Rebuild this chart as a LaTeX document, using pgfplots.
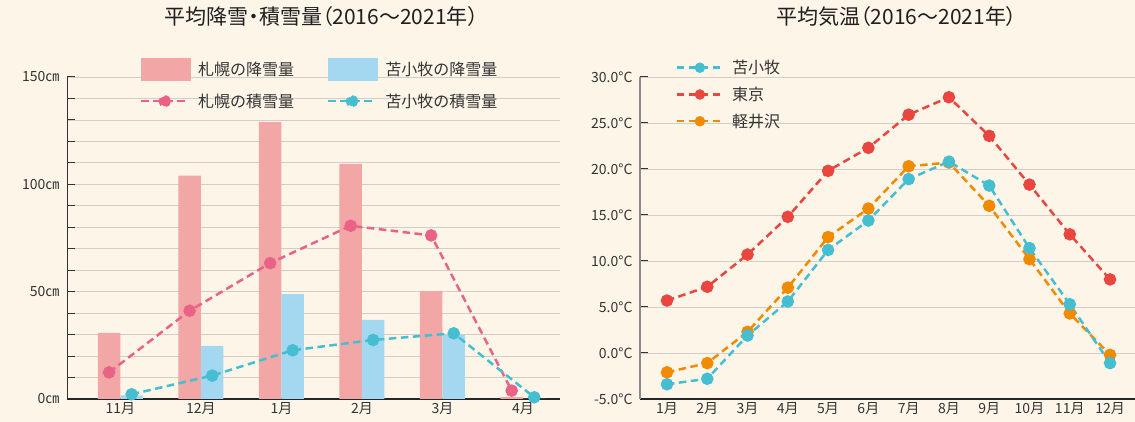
\documentclass[border=0pt]{standalone}
\usepackage{fontspec}
\setmainfont{Noto Sans CJK JP}
\newfontfamily\titlefont[RawFeature=+palt]{Noto Sans CJK JP}
\usepackage{pgfplots}
\pgfplotsset{compat=1.18}
\definecolor{bg}{HTML}{FEF5E9}
\definecolor{pinkbar}{HTML}{F2A6A6}
\definecolor{bluebar}{HTML}{A3D8F0}
\definecolor{pinkline}{HTML}{EA6386}
\definecolor{cyanline}{HTML}{45BED2}
\definecolor{redline}{HTML}{E8463F}
\definecolor{orangeline}{HTML}{F08B00}
\definecolor{txt}{HTML}{333333}
\definecolor{gridc}{HTML}{D2CDC7}
\begin{document}
\begin{tikzpicture}
\fill[bg] (0pt,0pt) rectangle (1135pt,422pt);
\useasboundingbox (0pt,0pt) rectangle (1135pt,422pt);
\pgfplotsset{
  common/.style={
    scale only axis, anchor=south west,
    axis x line=bottom, axis y line=left,
    axis line style={-},
    x axis line style={line width=1.6pt, color=black!85},
    xtick style={draw=none},
    tick align=inside, major tick length=8pt, minor tick length=8pt,
    ytick style={txt, line width=1pt},
    ymajorgrids, grid style={gridc, line width=0.8pt},
    ticklabel style={font=\fontsize{14}{14}\selectfont, text=txt},
    yticklabel style={xshift=-4pt},
    clip=false,
    title style={at={(0.5,1)}, anchor=center, yshift=54pt, font=\titlefont\fontsize{21}{21}\selectfont, text=black!88},
    legend cell align=left,
  },
  dline/.style={line width=2.5pt, dash pattern=on 7.5pt off 4.5pt, mark=*, mark size=5pt, mark options={solid, draw=none, fill=#1}, color=#1},
}
% ---------- left chart ----------
\begin{axis}[common,
  at={(67pt,23pt)}, width=493pt, height=322pt,
  xmin=-0.663, xmax=5.46, ymin=0, ymax=150,
  y axis line style={line width=1pt, color=txt},
  xtick={0,1,2,3,4,5}, xticklabels={11月,12月,1月,2月,3月,4月},
  ytick={0,50,100,150}, yticklabels={0㎝,50㎝,100㎝,150㎝},
  minor y tick num=4, yminorgrids,
  title={平均降雪・積雪量（2016〜2021年）},
  title style={xshift=8pt},
  legend columns=2,
  legend style={draw=none, fill=none, inner sep=0pt, outer sep=0pt,
    at={(0.148,1.058)}, anchor=north west,
    font=\fontsize{16}{16}\selectfont, text=txt,
    nodes={inner sep=0pt},
    /tikz/every odd column/.append style={column sep=7pt},
    /tikz/every even column/.append style={column sep=33pt},
    row sep=13pt},
]
\addplot[ybar, bar width=22.5pt, bar shift=-11.25pt, fill=pinkbar, draw=none,
  legend image code/.code={\fill[pinkbar] (0pt,-11.2pt) rectangle (50pt,11.2pt);}]
  coordinates {(0,30.8) (1,104) (2,129) (3,109.5) (4,50.3) (5,0.9)};
\addlegendentry{札幌の降雪量}
\addplot[ybar, bar width=22.5pt, bar shift=11.25pt, fill=bluebar, draw=none,
  legend image code/.code={\fill[bluebar] (0pt,-11.2pt) rectangle (50pt,11.2pt);}]
  coordinates {(0,1.7) (1,24.7) (2,48.9) (3,36.8) (4,29.8) (5,0)};
\addlegendentry{苫小牧の降雪量}
\addplot[dline=pinkline,
  legend image code/.code={\draw[pinkline, line width=2.5pt, dash pattern=on 7.5pt off 4.5pt] (0pt,0pt) -- (47pt,0pt); \fill[pinkline] (23.5pt,0pt) circle (5pt);}]
  coordinates {(-0.14,12.4) (0.86,41.1) (1.86,63.3) (2.86,80.7) (3.86,76.2) (4.86,3.9)};
\addlegendentry{札幌の積雪量}
\addplot[dline=cyanline,
  legend image code/.code={\draw[cyanline, line width=2.5pt, dash pattern=on 7.5pt off 4.5pt] (0pt,0pt) -- (47pt,0pt); \fill[cyanline] (23.5pt,0pt) circle (5pt);}]
  coordinates {(0.14,2.2) (1.14,10.9) (2.14,22.7) (3.14,27.5) (4.14,30.6) (5.14,0.8)};
\addlegendentry{苫小牧の積雪量}
\end{axis}
% ---------- right chart ----------
\begin{axis}[common,
  at={(640pt,23pt)}, width=495pt, height=322pt,
  xmin=0.33, xmax=12.62, ymin=-5, ymax=30,
  y axis line style={line width=2pt, color=black!45},
  xtick={1,...,12}, xticklabels={1月,2月,3月,4月,5月,6月,7月,8月,9月,10月,11月,12月},
  ytick={-5,0,5,10,15,20,25,30},
  yticklabels={-5.0°C,0.0°C,5.0°C,10.0°C,15.0°C,20.0°C,25.0°C,30.0°C},
  title={平均気温（2016〜2021年）},
  title style={xshift=9pt},
  legend style={draw=none, fill=none, inner sep=0pt, outer sep=0pt,
    at={(0.072,1.052)}, anchor=north west,
    font=\fontsize{16}{16}\selectfont, text=txt,
    nodes={inner sep=0pt},
    /tikz/every odd column/.append style={column sep=8pt},
    row sep=11.8pt},
]
\addlegendimage{legend image code/.code={\draw[cyanline, line width=2.5pt, dash pattern=on 7.5pt off 4.5pt] (0pt,0pt) -- (46pt,0pt); \fill[cyanline] (23pt,0pt) circle (5pt);}}
\addlegendentry{苫小牧}
\addlegendimage{legend image code/.code={\draw[redline, line width=2.5pt, dash pattern=on 7.5pt off 4.5pt] (0pt,0pt) -- (46pt,0pt); \fill[redline] (23pt,0pt) circle (5pt);}}
\addlegendentry{東京}
\addlegendimage{legend image code/.code={\draw[orangeline, line width=2.5pt, dash pattern=on 7.5pt off 4.5pt] (0pt,0pt) -- (46pt,0pt); \fill[orangeline] (23pt,0pt) circle (5pt);}}
\addlegendentry{軽井沢}
\addplot[dline=redline, forget plot] coordinates {(1,5.7) (2,7.2) (3,10.7) (4,14.8) (5,19.8) (6,22.3) (7,25.9) (8,27.8) (9,23.6) (10,18.3) (11,12.9) (12,8.0)};
\addplot[dline=orangeline, forget plot] coordinates {(1,-2.1) (2,-1.1) (3,2.3) (4,7.1) (5,12.6) (6,15.7) (7,20.3) (8,20.7) (9,16.0) (10,10.2) (11,4.3) (12,-0.2)};
\addplot[dline=cyanline, forget plot] coordinates {(1,-3.4) (2,-2.8) (3,1.9) (4,5.6) (5,11.2) (6,14.4) (7,18.9) (8,20.8) (9,18.2) (10,11.4) (11,5.3) (12,-1.1)};
\end{axis}
\end{tikzpicture}
\end{document}
